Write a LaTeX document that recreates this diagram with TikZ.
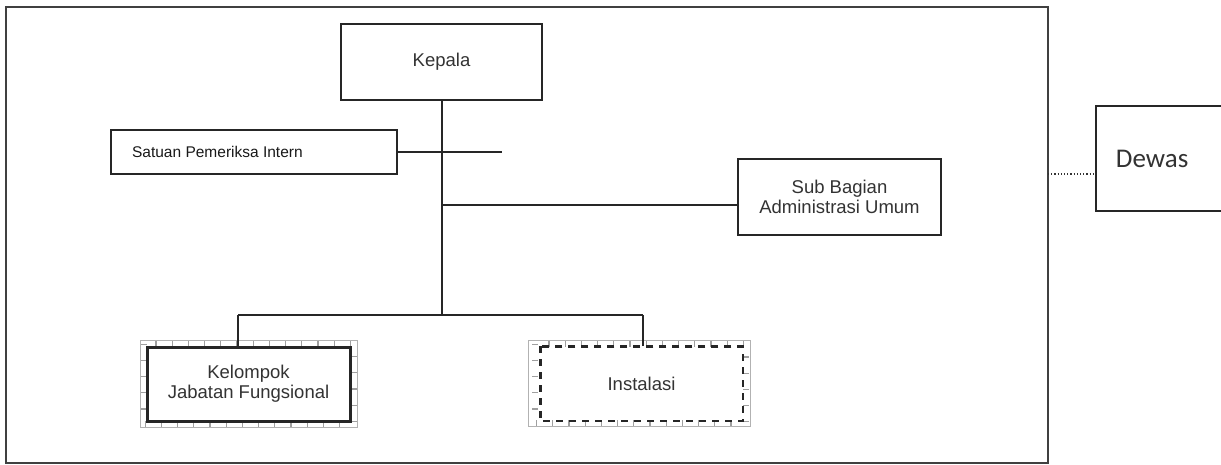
\documentclass[tikz,border=0pt]{standalone}
\usepackage{fontspec}
\setmainfont{Liberation Sans}
\newfontfamily\dewasfont{Carlito}
\begin{document}
\begin{tikzpicture}[x=1pt,y=-1pt,
  box/.style={draw=black!85, line width=1.8pt, fill=white, inner sep=0pt, align=center,
    font=\fontsize{18.5}{20}\selectfont\color{black!80}},
  conn/.style={draw=black!85, line width=2pt},
  band/.style={draw=gray!75, line width=6pt, dash pattern=on 1.2pt off 15pt},
  bandedge/.style={draw=gray!60, line width=0.8pt}]
\useasboundingbox (0,0) rectangle (1221,465);
% outer frame
\draw[draw=black!75, line width=2pt] (6,7) rectangle (1048,463);
% nodes
\node[box, minimum width=201pt, minimum height=76pt] (kep) at (441.5,62) {Kepala};
\node[box, minimum width=286pt, minimum height=44pt, anchor=west, align=left,
  font=\fontsize{15.5}{18}\selectfont\color{black!90}] (sat) at (110,152)
  {\hspace*{20pt}Satuan Pemeriksa Intern\hspace*{93pt}};
\node[box, minimum width=203pt, minimum height=76pt] (sub) at (839.5,197) {Sub Bagian\\Administrasi Umum};
% decorated bands
\draw[band] (143.5,343.5) rectangle (353.5,423.5);
\draw[bandedge] (140,340) rectangle (357,427);
\node[box, line width=3pt, minimum width=203pt, minimum height=74pt] (kel) at (248.5,384) {Kelompok\\Jabatan Fungsional};
\draw[band] (534.5,343.5) rectangle (746,423);
\draw[bandedge] (528,340) rectangle (750,426);
\node[box, draw=none, minimum width=201pt, minimum height=73pt] (ins) at (641.5,383.5) {Instalasi};
\draw[black!85, line width=2.8pt, dash pattern=on 7pt off 6pt] (ins.north west) rectangle (ins.south east);
\node[draw=black!85, line width=1.8pt, fill=white, anchor=west, minimum height=105pt,
  text width=110pt, inner xsep=20pt, align=left,
  font=\dewasfont\fontsize{27}{30}\selectfont\color{black!80}] (dew) at (1095,158.5) {Dewas};
% connectors
\coordinate (jm) at (441.5,205);
\coordinate (jb) at (441.5,315);
\coordinate (jl) at (238,315);
\coordinate (jr) at (643,315);
\coordinate (se) at (502,152);
\draw[conn] (kep.south) -- (jb);
\draw[conn] (sat.east) -- (se);
\draw[conn] (jm) -- (jm -| sub.west);
\draw[conn] (jl) -- (jr);
\draw[conn] (jl) -- (jl |- kel.north);
\draw[conn] (jr) -- (643,346);
\coordinate (fr) at (1048,174);
\draw[black!80, line width=1.2pt, dotted] (fr) -- (fr -| dew.west);
\end{tikzpicture}
\end{document}
